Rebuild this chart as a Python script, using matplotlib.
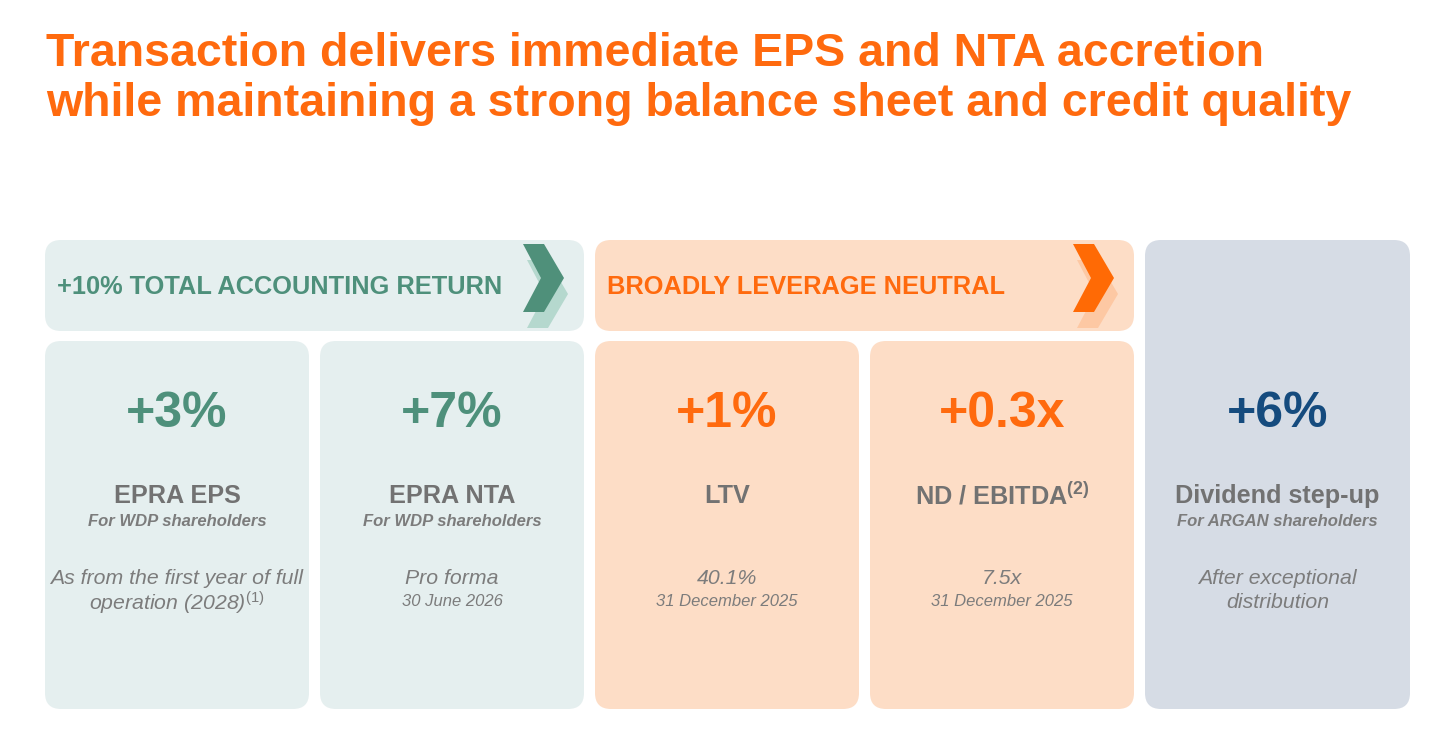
'''
WDP / ARGAN transaction slide:
EPS and NTA accretion, leverage
'''

import matplotlib
matplotlib.use('Agg')
import matplotlib.pyplot as plt
from matplotlib.patches import FancyBboxPatch, Polygon

matplotlib.rcParams.update({'font.family': 'Liberation Sans',
                            'mathtext.fontset': 'custom',
                            'mathtext.rm': 'Liberation Sans',
                            'mathtext.it': 'Liberation Sans:italic',
                            'mathtext.bf': 'Liberation Sans:bold'})

# Slide content
title = ['Transaction delivers immediate EPS and NTA accretion',
         'while maintaining a strong balance sheet and credit quality']
groups = ['+10% TOTAL ACCOUNTING RETURN', 'BROADLY LEVERAGE NEUTRAL']
values = ['+3%', '+7%', '+1%', '+0.3x', '+6%']
metrics = ['EPRA EPS', 'EPRA NTA', 'LTV', r'ND / EBITDA$^{\mathbf{(2)}}$', 'Dividend step-up']
audiences = ['For WDP shareholders', 'For WDP shareholders', '', '', 'For ARGAN shareholders']
notes = [['As from the first year of full', r'operation (2028)$^{\mathit{(1)}}$'],
         ['Pro forma'], ['40.1%'], ['7.5x'],
         ['After exceptional', 'distribution']]
dates = ['', '30 June 2026', '31 December 2025', '31 December 2025', '']
card_group = [0, 0, 1, 1, 2]

# Colours per group: green, orange, blue
orange = '#FF6A0E'
num_col = ['#4E907B', '#FF6A0E', '#154B7E']
box_col = ['#E5EFEF', '#FDDDC6', '#D6DCE5']
chev_dark = ['#4F907A', '#FF6A05']
chev_light = ['#B5D8CE', '#FDC8A3']
grey = '#727272'
grey_it = '#7C7C7C'

W, H = 1456, 743
fig = plt.figure(figsize=(W/100, H/100), dpi=100)
ax = fig.add_axes([0, 0, 1, 1])
ax.set_xlim(0, W)
ax.set_ylim(H, 0)
ax.axis('off')

# Title
for i, t in enumerate(title):
    ax.text(46, 66 + i*50, t, color=orange, fontsize=33.5, fontweight='bold',
            ha='left', va='baseline')

def rbox(x0, y0, x1, y1, col):
    p = FancyBboxPatch((x0, y0), x1 - x0, y1 - y0,
                       boxstyle='round,pad=0,rounding_size=16',
                       fc=col, ec='none')
    ax.add_patch(p)

# Header bands with chevrons
band_x = [(45, 584), (595, 1134)]
for g, (x0, x1) in enumerate(band_x):
    rbox(x0, 240, x1, 331, box_col[g])
    ax.text(x0 + 12, 287, groups[g], color=num_col[g] if g == 0 else orange,
            fontsize=18.3, fontweight='bold', ha='left', va='center')
    cx = x1 - 61
    shape = [(0, 0), (21, 0), (41, 34), (21, 68), (0, 68), (18, 34)]
    light = [(cx + 4 + px, 244 + 16 + py) for px, py in shape]
    dark = [(cx + px, 244 + py) for px, py in shape]
    ax.add_patch(Polygon(light, closed=True, fc=chev_light[g], ec='none'))
    ax.add_patch(Polygon(dark, closed=True, fc=chev_dark[g], ec='none'))

# Cards
card_x = [(45, 309), (320, 584), (595, 859), (870, 1134), (1145, 1410)]
for i, (x0, x1) in enumerate(card_x):
    g = card_group[i]
    top = 240 if g == 2 else 341
    rbox(x0, top, x1, 709, box_col[g])
    xc = (x0 + x1) / 2
    ax.text(xc, 414, values[i], color=num_col[g], fontsize=36,
            fontweight='bold', ha='center', va='center')
    ax.text(xc, 496, metrics[i], color=grey, fontsize=18.2,
            fontweight='bold', ha='center', va='center')
    if audiences[i]:
        ax.text(xc, 522, audiences[i], color=grey_it, fontsize=12,
                fontweight='bold', style='italic', ha='center', va='center')
    for j, line in enumerate(notes[i]):
        ax.text(xc, 578 + j*25, line, color=grey_it, fontsize=15.3,
                style='italic', ha='center', va='center')
    if dates[i]:
        ax.text(xc, 601, dates[i], color=grey_it, fontsize=12,
                style='italic', ha='center', va='center')

plt.savefig('out.png', dpi=100)
